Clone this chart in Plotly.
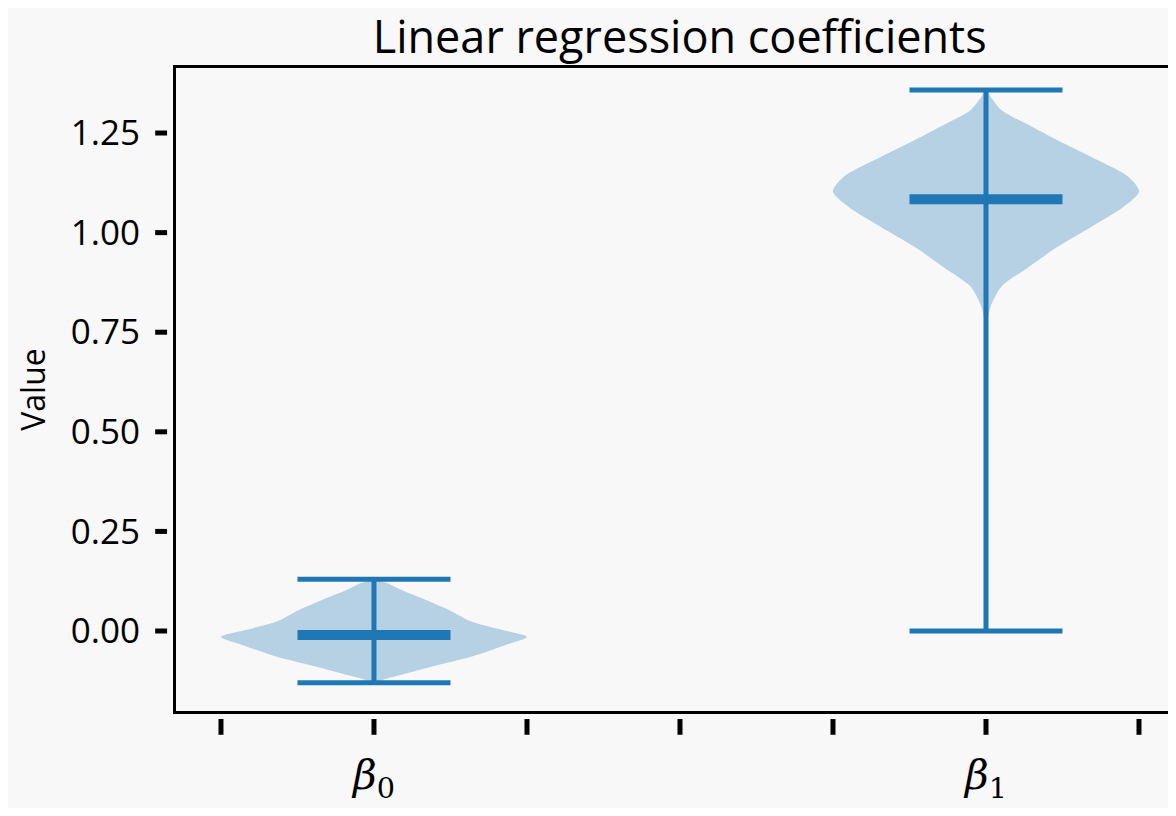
import plotly.graph_objects as go

# ---- data ----
categories = ["β0", "β1"]
positions = [1.0, 2.0]
mins = [-0.13, 0.0]
maxs = [0.13, 1.358]
medians = [-0.01, 1.084]

# violin outlines: value levels and relative half-width (1 = widest)
b0_levels = [-0.13, -0.12, -0.11, -0.089, -0.064, -0.035, -0.015, 0.0025, 0.023, 0.053, 0.078, 0.103, 0.118, 0.124, 0.13]
b0_width = [0.01, 0.08, 0.18, 0.38, 0.64, 0.86, 1.0, 0.84, 0.64, 0.49, 0.34, 0.18, 0.1, 0.05, 0.01]
b1_levels = [0.0, 0.4, 0.7, 0.78, 0.814, 0.864, 0.914, 0.965, 1.015, 1.065, 1.103, 1.14, 1.182, 1.224, 1.266, 1.308, 1.341, 1.358]
b1_width = [0.0, 0.0, 0.004, 0.012, 0.03, 0.1, 0.28, 0.47, 0.69, 0.9, 1.0, 0.93, 0.73, 0.51, 0.3, 0.1, 0.03, 0.005]

x_tickvals = [0.75, 1.0, 1.25, 1.5, 1.75, 2.0, 2.25]
x_ticktext = ["", "<i>β</i><sub>0</sub>", "", "", "", "<i>β</i><sub>1</sub>", ""]
y_tickvals = [0.0, 0.25, 0.5, 0.75, 1.0, 1.25]
y_ticktext = ["0.00", "0.25", "0.50", "0.75", "1.00", "1.25"]

BLUE = "#1f77b4"
FILL = "rgba(31,119,180,0.3)"
BG = "#f8f8f8"
HALF = 0.25   # half of violin width
CAP = 0.125   # half length of cap/median lines

fig = go.Figure()

for pos, lv, wd in [(positions[0], b0_levels, b0_width), (positions[1], b1_levels, b1_width)]:
    xs = [pos - HALF * w for w in wd] + [pos + HALF * w for w in reversed(wd)]
    ys = list(lv) + list(reversed(lv))
    fig.add_trace(go.Scatter(x=xs, y=ys, fill="toself", fillcolor=FILL, mode="lines",
                             line=dict(width=0, color=FILL, shape="spline", smoothing=0.8),
                             hoverinfo="skip", showlegend=False))

for pos, lo, hi, med in zip(positions, mins, maxs, medians):
    fig.add_trace(go.Scatter(x=[pos, pos], y=[lo, hi], mode="lines",
                             line=dict(color=BLUE, width=5), showlegend=False))
    for v in (lo, hi):
        fig.add_trace(go.Scatter(x=[pos - CAP, pos + CAP], y=[v, v], mode="lines",
                                 line=dict(color=BLUE, width=5), showlegend=False))
    fig.add_trace(go.Scatter(x=[pos - CAP, pos + CAP], y=[med, med], mode="lines",
                             line=dict(color=BLUE, width=10), showlegend=False))

# detached tick marks (xkcd style)
shapes = []
for v in y_tickvals:
    shapes.append(dict(type="line", xref="paper", yref="y", x0=-0.021, x1=-0.009, y0=v, y1=v,
                       line=dict(color="black", width=5)))
for v in x_tickvals:
    shapes.append(dict(type="line", xref="x", yref="paper", x0=v, x1=v, y0=-0.0124, y1=-0.037,
                       line=dict(color="black", width=5)))

FONT = "Open Sans"
fig.update_layout(
    width=1160, height=800,
    margin=dict(l=168, r=0, t=60, b=97, autoexpand=False),
    paper_bgcolor=BG, plot_bgcolor=BG,
    shapes=shapes,
    title=dict(text="Linear regression coefficients", x=0.579, xanchor="center", y=0.964, yanchor="middle",
               font=dict(family=FONT, size=45, color="black")),
    xaxis=dict(range=[0.6765, 2.2974], tickvals=x_tickvals, ticktext=x_ticktext, ticks="",
               ticklabelstandoff=26, showline=True, linecolor="black", linewidth=3, mirror=True,
               showgrid=False, zeroline=False, automargin=False,
               tickfont=dict(family="DejaVu Serif", size=41, color="black")),
    yaxis=dict(range=[-0.2008, 1.4132], tickvals=y_tickvals, ticktext=y_ticktext, ticks="",
               ticklabelstandoff=26, showline=True, linecolor="black", linewidth=3,
               showgrid=False, zeroline=False, automargin=False,
               tickfont=dict(family=FONT, size=35, color="black"),
               title=dict(text="Value", font=dict(family=FONT, size=32, color="black"), standoff=16)),
)

fig.write_html("out.html")
